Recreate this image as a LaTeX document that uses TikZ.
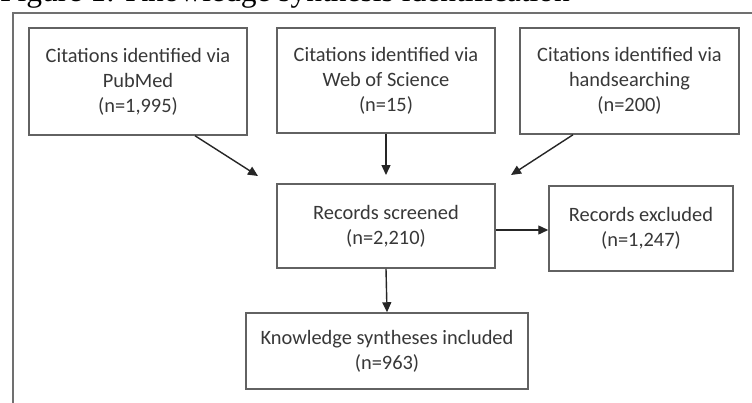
\documentclass[tikz,border=0pt]{standalone}
\usepackage{fontspec}
\setmainfont{Carlito}
\newfontfamily\titlefont{Liberation Serif}
\usetikzlibrary{arrows.meta}
\definecolor{txtgray}{HTML}{383838}
\definecolor{boxgray}{HTML}{626262}
\definecolor{framegray}{HTML}{707070}
\tikzset{
  fbox/.style={draw=boxgray, line width=1.5pt, fill=white, inner sep=0pt, align=center,
    text=txtgray, font=\fontsize{20.4}{25}\selectfont},
  arr/.style={draw=black!85, line width=1.4pt, -{Triangle[length=10pt,width=9pt]}},
}
\begin{document}
\begin{tikzpicture}[x=1pt,y=-1pt]
\useasboundingbox (0,0) rectangle (752,402);
\clip (0,0) rectangle (752,402);
\fill[white] (0,0) rectangle (752,402);
% title (cut off at top)
\node[anchor=base west, inner sep=0pt, font=\titlefont\fontsize{31.5}{31.5}\selectfont, text=black] (title) at (0,1.5) {Figure 1: Knowledge synthesis identification};
% frame
\draw[framegray, line width=2.6pt] (13,404) -- (13,13) -- (756,13);
% boxes
\node[fbox, minimum width=218pt, minimum height=107pt] (b1) at (138,81.5)
  {Citations identified via\\PubMed\\(n=1,995)};
\node[fbox, minimum width=218pt, minimum height=105pt] (b2) at (386,80.5)
  {Citations identified via\\Web of Science\\(n=15)};
\node[fbox, minimum width=219pt, minimum height=106pt] (b3) at (629.5,81)
  {Citations identified via\\handsearching\\(n=200)};
\node[fbox, minimum width=218pt, minimum height=84pt] (b4) at (386,226)
  {Records screened\\(n=2,210)};
\node[fbox, minimum width=184pt, minimum height=85pt] (b5) at (641,228.5)
  {Records excluded\\(n=1,247)};
\node[fbox, minimum width=282pt, minimum height=76pt] (b6) at (387,351)
  {Knowledge syntheses included\\(n=963)};
% free arrow ends
\coordinate (e1) at (258,176);
\coordinate (e2) at (386,175);
\coordinate (e3) at (511,175);
% connectors
\draw[arr] ([xshift=57pt]b1.south) -- (e1);
\draw[arr] (b2.south) -- (e2);
\draw[arr] ([xshift=-56.5pt]b3.south) -- (e3);
\draw[arr] ([yshift=-4pt]b4.east) -- ([yshift=-4pt]b4.east -| b5.west);
\draw[arr] (b4.south) -- (b6.north);
\end{tikzpicture}
\end{document}
